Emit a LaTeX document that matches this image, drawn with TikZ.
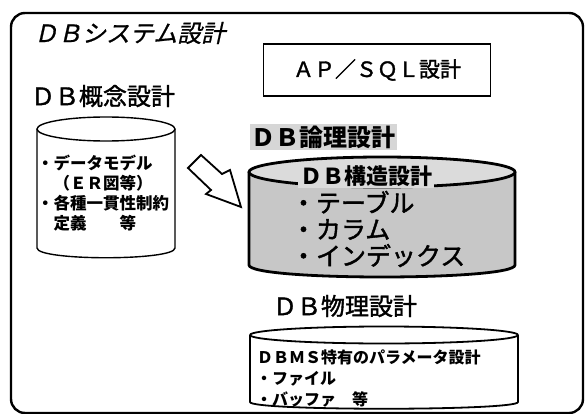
\documentclass[tikz,border=0pt]{standalone}
\usepackage{fontspec}
\newfontfamily\jp{Noto Sans CJK JP}
\newfontfamily\jpm[FakeBold=1.6]{Noto Sans CJK JP}
\newfontfamily\jpsl[FakeSlant=0.22,FakeBold=0.8]{Noto Sans CJK JP}
\begin{document}
\begin{tikzpicture}[x=1pt,y=-1pt,
  lbl/.style={inner sep=0pt, outer sep=0pt},
  fs/.style={font=\jpm\fontsize{#1}{#1}\selectfont},
  cyl/.style={draw=black, line join=round},
  bodyshade/.style={fill=black!22},
  topshade/.style={fill=black!14},
]
\useasboundingbox (0,0) rectangle (585,414);
% outer frame
\draw[line width=2.4pt, rounded corners=14pt] (11,13) rectangle (583,413);
% title
\node[lbl, anchor=west, font=\jpsl\fontsize{24}{24}\selectfont] (title) at (34,33) {ＤＢシステム設計};
% AP/SQL box
\node[draw, line width=1.8pt, minimum width=227pt, minimum height=52pt, fs=21] (ap) at (377,70) {ＡＰ／ＳＱＬ設計};
% DB conceptual
\node[lbl, anchor=west, fs=24] (gainen) at (31,96) {ＤＢ概念設計};
% left cylinder
\draw[cyl, line width=1.4pt] (37,129) -- (37,248) .. controls (37,261) and (175,261) .. (175,248) -- (175,129);
\draw[cyl, line width=1.4pt] (106,129) ellipse [x radius=69, y radius=12];
\node[lbl, anchor=west, align=left, font=\jp\bfseries\fontsize{16.5}{20}\selectfont] (lctext) at (37,193)
  {・データモデル\\　（ＥＲ図等）\\・各種一貫性制約\\　定義　　等};
% hollow arrow
\draw[line width=1.8pt, line join=miter, fill=white] (188,168) -- (211,190) -- (206,194) -- (241,207) -- (230,170) -- (222,174) -- (201,155) -- cycle;
% DB logical label
\node[fill=black!16, inner sep=1.5pt, font=\jp\bfseries\fontsize{24}{24}\selectfont] (ronri) at (323,137) {ＤＢ論理設計};
% middle cylinder
\draw[cyl, bodyshade, line width=2.8pt] (249,172) -- (249,265) .. controls (249,281) and (515,281) .. (515,265) -- (515,172) -- cycle;
\draw[cyl, topshade, line width=2.8pt] (382,172) ellipse [x radius=133, y radius=15];
\node[fill=black!14, inner sep=2pt, font=\jp\bfseries\fontsize{22}{22}\selectfont] (kozo) at (366,176) {ＤＢ構造設計};
\node[lbl, anchor=west, align=left, font=\jpm\fontsize{25}{26.5}\selectfont] (items) at (291,229)
  {・テーブル\\・カラム\\・インデックス};
% DB physical label
\node[lbl, fs=24] (butsuri) at (345,306) {ＤＢ物理設計};
% bottom cylinder
\draw[cyl, line width=1.8pt] (250,335) -- (250,402) .. controls (250,411) and (518,411) .. (518,402) -- (518,335);
\draw[cyl, line width=1.8pt] (384,335) ellipse [x radius=134, y radius=8.5];
\node[lbl, anchor=west, align=left, font=\jp\bfseries\fontsize{16}{21}\selectfont] (bctext) at (256,379)
  {\hspace{1pt}ＤＢＭＳ特有のパラメータ設計\\・ファイル\\・バッファ　等};
\end{tikzpicture}
\end{document}
